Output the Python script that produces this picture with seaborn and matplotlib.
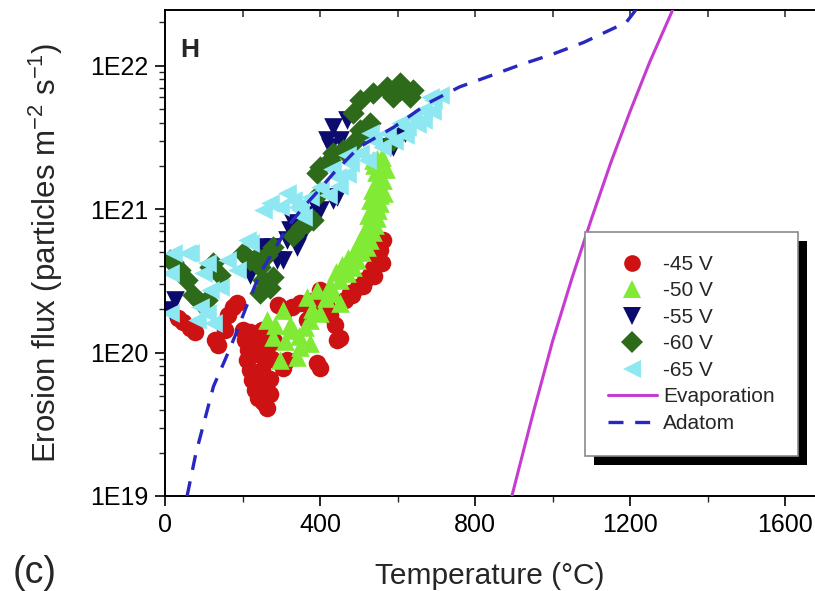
import numpy as np
import pandas as pd
import matplotlib
matplotlib.use("Agg")
import matplotlib.pyplot as plt
import seaborn as sns
from matplotlib.lines import Line2D
from matplotlib.patches import Rectangle

sns.set_theme(style="ticks")
plt.rcParams["font.family"] = ["Liberation Sans", "DejaVu Sans"]
plt.rcParams["mathtext.fontset"] = "custom"
plt.rcParams["mathtext.rm"] = "Liberation Sans"
plt.rcParams["mathtext.it"] = "Liberation Sans:italic"

# ---------------- data ----------------
t45 = [34, 46, 65, 77, 129, 137, 155, 163, 175, 186, 201, 206, 214, 212, 219, 224, 232, 240, 253, 263,
       245, 250, 245, 240, 250, 271, 219, 292, 310, 328, 348, 366, 374, 387, 400, 418, 426, 439, 444, 452,
       392, 400, 315, 304, 464, 477, 498, 516, 529, 537, 547, 555, 562, 482,
       270, 275, 262, 230, 280, 228, 510, 540, 560]
f45 = [1.74e20, 1.63e20, 1.48e20, 1.39e20, 1.22e20, 1.13e20, 1.44e20, 1.83e20, 2.08e20, 2.21e20,
       1.44e20, 1.22e20, 1.04e20, 8.9e19, 7.6e19, 6.4e19, 5.5e19, 4.8e19, 4.5e19, 4.1e19,
       5.9e19, 7.6e19, 9.6e19, 1.22e20, 1.44e20, 5.1e19, 1.39e20, 2.14e20, 1.98e20, 2.08e20,
       2.21e20, 1.68e20, 2.08e20, 2.32e20, 2.73e20, 2.08e20, 1.83e20, 1.55e20, 1.22e20, 1.26e20,
       8.5e19, 7.8e19, 8.9e19, 7.8e19, 2.32e20, 2.6e20, 2.86e20, 3.2e20, 3.47e20, 3.88e20,
       4.56e20, 5.18e20, 6.08e20, 2.52e20,
       6.5e19, 9.0e19, 1.1e20, 1.0e20, 1.2e20, 1.3e20, 2.9e20, 3.4e20, 4.2e20]

t50 = [263, 279, 304, 323, 330, 348, 341, 297, 366, 374, 392, 400, 374, 433, 452, 452, 470, 485, 495, 508,
       521, 529, 537, 542, 547, 550, 555, 555, 555, 550, 544, 539, 537, 560, 529, 524, 534, 516, 503, 490,
       472, 457, 441, 426, 285, 310, 345, 360, 380, 415,
       540, 565, 562, 545, 530, 515, 500, 485, 570, 548]
f50 = [1.68e20, 1.28e20, 1.98e20, 1.55e20, 1.44e20, 1.09e20, 9.3e19, 8.9e19, 2.44e20, 1.68e20,
       2.73e20, 1.88e20, 1.16e20, 2.6e20, 2.21e20, 3.2e20, 3.58e20, 3.94e20, 4.4e20, 5.0e20,
       5.4e20, 6.08e20, 6.9e20, 7.7e20, 8.7e20, 9.8e20, 1.10e21, 1.25e21, 1.42e21, 1.59e21,
       1.81e21, 2.03e21, 2.19e21, 2.3e21, 1.16e21, 9.1e20, 1.36e21, 7.1e20, 6.08e20, 5.18e20,
       4.56e20, 4.07e20, 3.64e20, 2.95e20, 1.55e20, 1.2e20, 1.3e20, 1.5e20, 2.0e20, 2.4e20,
       1.2e21, 1.3e21, 1.6e21, 1.05e21, 8.2e20, 6.5e20, 5.5e20, 4.8e20, 1.9e21, 2.25e21]

t55 = [13, 26, 219, 245, 253, 253, 279, 289, 304, 315, 323, 330, 341, 348, 356, 356, 374, 387, 400, 433,
       444, 418, 426, 433, 452, 470, 581, 588, 606, 619]
f55 = [1.98e20, 2.32e20, 3.47e20, 5.43e20, 4.63e20, 3.94e20, 5.43e20, 4.4e20, 4.4e20, 6.08e20,
       7.1e20, 7.98e20, 5.43e20, 6.08e20, 7.1e20, 7.98e20, 9.1e20, 1.07e21, 9.8e20, 1.16e21,
       1.21e21, 3.03e21, 2.7e21, 3.73e21, 3.03e21, 4.17e21, 2.7e21, 2.7e21, 3.18e21, 3.39e21]

t60 = [13, 21, 39, 57, 72, 90, 108, 116, 124, 142, 201, 219, 237, 245, 253, 263, 271, 279, 279, 245,
       366, 382, 400, 392, 400, 426, 433, 459, 485, 485, 503, 511, 529, 537, 573, 573, 588, 606, 606, 632,
       640, 588, 503, 330, 350]
f60 = [4.4e20, 4.27e20, 3.76e20, 3.2e20, 2.52e20, 2.25e20, 2.32e20, 3.94e20, 4.2e20, 3.47e20,
       4.94e20, 4.4e20, 4.63e20, 3.94e20, 3.2e20, 4.78e20, 2.81e20, 3.36e20, 5.43e20, 2.6e20,
       7.98e20, 8.38e20, 1.29e21, 1.78e21, 1.96e21, 2.19e21, 2.46e21, 2.58e21, 2.88e21, 4.67e21,
       5.75e21, 3.39e21, 3.97e21, 6.43e21, 7.08e21, 6.75e21, 6.03e21, 7.55e21, 6.75e21, 6.03e21,
       6.75e21, 3.03e21, 3.55e21, 6.5e20, 7.5e20]

t65 = [13, 13, 21, 57, 65, 83, 90, 98, 108, 108, 116, 124, 142, 160, 186, 212, 219, 253, 271, 297,
       315, 330, 341, 348, 356, 374, 400, 444, 477, 503, 537, 573, 606, 624, 640, 666, 666, 684, 691, 710,
       420, 450, 470, 520, 560, 590, 620, 650, 690, 530, 470, 430]
f65 = [3.58e20, 1.88e20, 4.94e20, 4.94e20, 4.94e20, 1.68e20, 2.08e20, 3.58e20, 4.2e20, 1.88e20,
       2.73e20, 1.61e20, 2.86e20, 4.4e20, 3.76e20, 6.08e20, 5.8e20, 9.8e20, 1.10e21, 1.03e21,
       1.29e21, 1.16e21, 1.03e21, 9.8e20, 8.8e20, 1.21e21, 1.42e21, 1.67e21, 2.09e21, 2.46e21,
       3.03e21, 3.39e21, 3.97e21, 3.73e21, 4.38e21, 4.9e21, 4.17e21, 6.03e21, 5.75e21, 6.23e21,
       1.25e21, 1.45e21, 1.75e21, 2.2e21, 2.7e21, 3.0e21, 3.3e21, 3.9e21, 4.8e21, 3.4e21, 2.4e21, 1.9e21]

evap_t = [895, 950, 1000, 1050, 1100, 1150, 1200, 1250, 1310]
evap_f = [1.0e19, 3.8e19, 1.2e20, 3.3e20, 8.5e20, 2.1e21, 4.8e21, 1.05e22, 2.45e22]

adatom_t = [57, 80, 100, 125, 155, 180, 210, 245, 280, 315, 350, 390, 435, 500, 590, 680, 760, 840,
            920, 1000, 1080, 1150, 1190, 1215]
adatom_f = [1.0e19, 2.0e19, 3.2e19, 5.8e19, 8.9e19, 1.29e20, 2.09e20, 3.55e20, 5.1e20, 7.4e20, 9.8e20,
            1.29e21, 1.78e21, 2.69e21, 3.72e21, 5.5e21, 7.1e21, 8.5e21, 1.02e22, 1.2e22, 1.45e22,
            1.78e22, 2.0e22, 2.45e22]

series = ["-45 V", "-50 V", "-55 V", "-60 V", "-65 V"]
colors = ["#cc1212", "#80ea34", "#0c0c6e", "#2d6a19", "#8ee8f2"]
marks = ["o", "^", "v", "D", "<"]
msizes = [160, 180, 180, 130, 180]

frames = []
for name, tt, ff in zip(series, [t45, t50, t55, t60, t65], [f45, f50, f55, f60, f65]):
    frames.append(pd.DataFrame({"T": tt, "flux": ff, "bias": name}))
df = pd.concat(frames, ignore_index=True)

# ---------------- figure ----------------
W, H = 815, 591
fig = plt.figure(figsize=(W / 100, H / 100), dpi=100)
ax = fig.add_axes([165 / W, 95 / H, 650 / W, 486 / H])
ax.set_yscale("log")

for name, col, mk, sz in zip(series, colors, marks, msizes):
    sub = df[df["bias"] == name]
    sns.scatterplot(data=sub, x="T", y="flux", ax=ax, color=col, marker=mk, s=sz,
                    linewidth=0, legend=False, zorder=2)

sns.lineplot(x=evap_t, y=evap_f, ax=ax, color="#c63bd0", lw=2.2, zorder=3, sort=False)
sns.lineplot(x=adatom_t, y=adatom_f, ax=ax, color="#2828c0", lw=2.4, zorder=3, sort=False,
             dashes=False)
ax.lines[-1].set_dashes([4.5, 3.5])

ax.set_xlim(0, 1677)
ax.set_ylim(1e19, 2.44e22)

ax.set_xticks([0, 400, 800, 1200, 1600])
ax.set_xticks(np.arange(200, 1700, 400), minor=True)
ax.set_yticks([1e19, 1e20, 1e21, 1e22])
ax.set_yticklabels(["1E19", "1E20", "1E21", "1E22"])
ax.tick_params(axis="both", which="major", direction="out", length=7, width=1.2,
               labelsize=18, colors="black", pad=5)
ax.tick_params(axis="both", which="minor", direction="out", length=4, width=1.0)
ax.tick_params(axis="x", which="both", top=False)
ax.tick_params(axis="y", which="both", right=False)

sec = ax.secondary_xaxis("top")
sec.set_xticks(np.arange(200, 1700, 200))
sec.tick_params(direction="in", length=5, width=1.1, labeltop=False)
sec.set_xticklabels([])
sec.spines["top"].set_visible(False)

for s in ["left", "bottom", "top"]:
    ax.spines[s].set_linewidth(1.4)
    ax.spines[s].set_color("black")
ax.spines["right"].set_visible(False)

ax.set_xlabel("Temperature (°C)", fontsize=21.5, labelpad=18)
ax.set_ylabel(r"Erosion flux (particles m$^{-2}$ s$^{-1}$)", fontsize=22.5, labelpad=18)

ax.text(0.024, 0.918, "H", transform=ax.transAxes, fontsize=19, fontweight="bold",
        ha="left", va="center")
fig.text(0.016, 0.030, "(c)", fontsize=27, ha="left", va="center")

handles = [Line2D([], [], ls="none", marker=mk, color=c, markersize=ms, markeredgewidth=0)
           for mk, c, ms in zip(marks, colors, [12, 13, 13, 11, 13])]
handles.append(Line2D([], [], color="#c63bd0", lw=2.2))
handles.append(Line2D([], [], color="#2828c0", lw=2.4, dashes=[4.5, 3.5]))
labels = series + ["Evaporation", "Adatom"]
leg = ax.legend(handles, labels, loc="upper left", bbox_to_anchor=(585 / W, 1 - 232 / H),
                bbox_transform=fig.transFigure, fontsize=15, frameon=True, fancybox=False,
                framealpha=1, edgecolor="#8a8a8a", borderpad=1.1, labelspacing=0.36,
                handlelength=2.35, handletextpad=0.3, borderaxespad=0)
leg.get_frame().set_linewidth(1.2)
leg.set_zorder(6)

fig.canvas.draw()
bb = leg.get_window_extent()
inv = ax.transAxes.inverted()
(x0, y0), (x1, y1) = inv.transform([[bb.x0 + 9, bb.y0 - 9], [bb.x1 + 9, bb.y1 - 9]])
ax.add_patch(Rectangle((x0, y0), x1 - x0, y1 - y0, transform=ax.transAxes,
                       facecolor="black", edgecolor="none", clip_on=False, zorder=5.5))

fig.savefig("out.png", dpi=100, facecolor="white")
